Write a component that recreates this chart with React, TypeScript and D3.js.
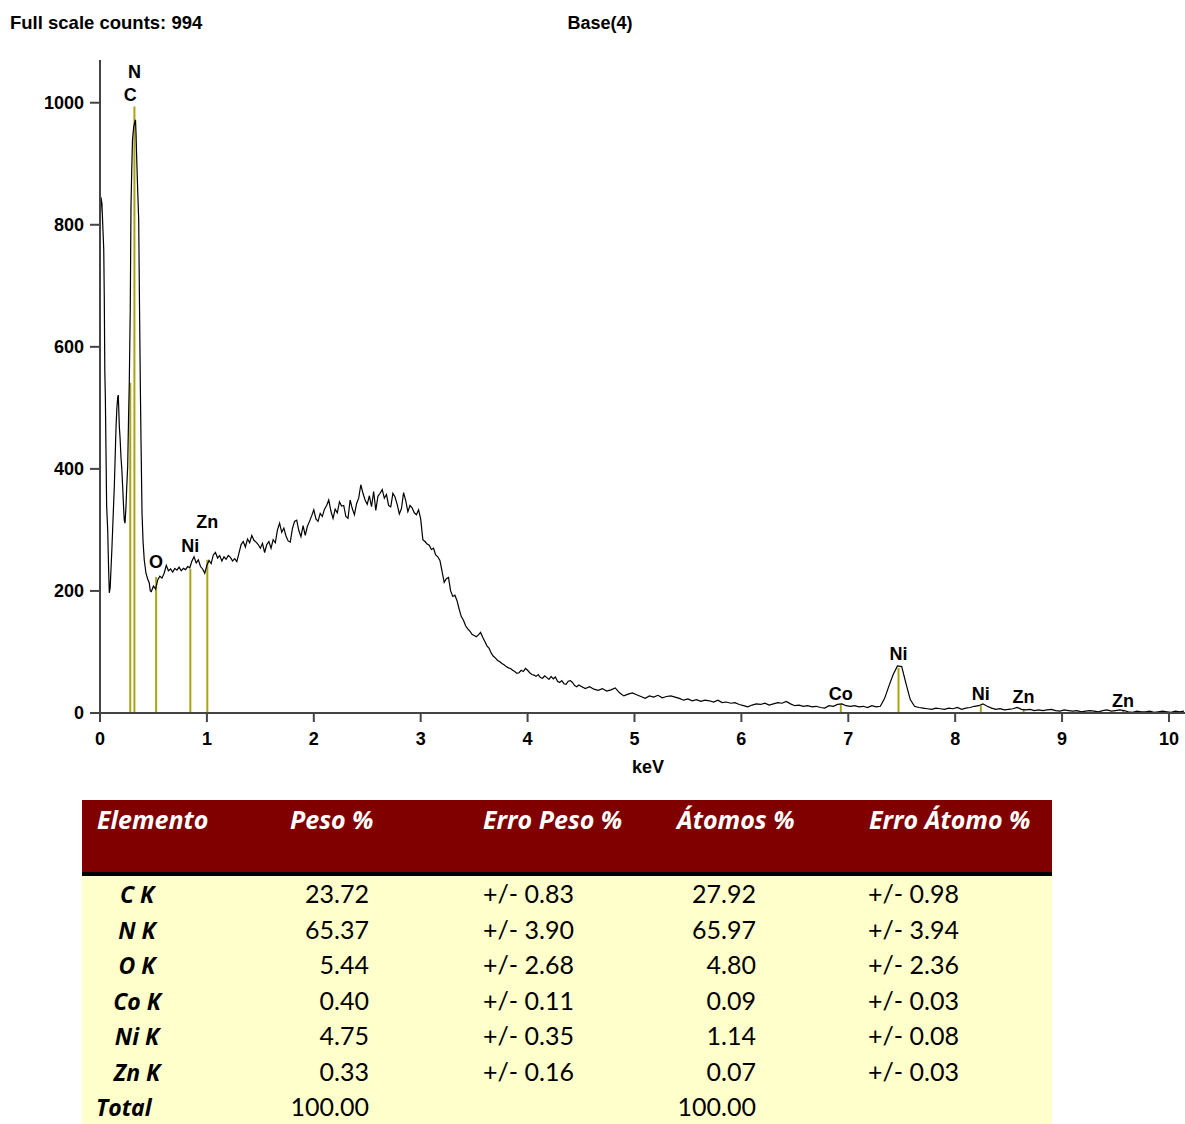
import { useEffect, useRef } from 'react';
import * as d3 from 'd3';

// spectrum below 0.48 keV, read point by point: [keV, counts]
const lowEnergy: [number, number][] = [
  [0.005, 820], [0.009, 845], [0.018, 835], [0.025, 803], [0.035, 760], [0.04, 682], [0.045, 560],
  [0.05, 518], [0.056, 430], [0.062, 340], [0.072, 300], [0.08, 240], [0.087, 197], [0.095, 205],
  [0.104, 240], [0.112, 272], [0.122, 318], [0.134, 371], [0.142, 420], [0.15, 469], [0.158, 500],
  [0.166, 518], [0.171, 521], [0.176, 495], [0.181, 469], [0.188, 450], [0.196, 420], [0.204, 400],
  [0.212, 371], [0.22, 340], [0.227, 316], [0.234, 311], [0.243, 338], [0.25, 370], [0.259, 404],
  [0.268, 492], [0.274, 541], [0.283, 660], [0.29, 832], [0.297, 890], [0.304, 939], [0.315, 960],
  [0.325, 968], [0.332, 972], [0.337, 950], [0.343, 911], [0.352, 860], [0.362, 808], [0.37, 660],
  [0.377, 540], [0.384, 442], [0.393, 328], [0.403, 280], [0.414, 251], [0.43, 229], [0.445, 220],
  [0.461, 213], [0.47, 200],
];

// counts from 0.48 keV, one every 0.02 keV
const midStart = 0.48;
const midStep = 0.02;
const midCounts = [
  199, 208, 203, 218, 224, 221, 229, 242, 233, 236, 231, 237, 234, 239, 233, 237, 235, 240, 238, 249,
  256, 246, 251, 240, 236, 229, 242, 250, 245, 259, 263, 254, 258, 249, 256, 252, 258,
  255, 249, 253, 248, 262, 276, 281, 272, 285, 279, 291, 283, 280, 276, 270, 278, 263, 276, 281, 270,
  284, 279, 300, 311, 296, 303, 290, 282, 280, 302, 314, 316, 299, 289, 307, 291, 306, 314, 323, 333,
  318, 314, 327, 322, 334, 340, 349, 331, 319, 334, 328, 346, 339, 340, 322, 319, 349, 335, 325, 343,
  352, 374, 360, 349, 342, 356, 338, 363, 332, 355, 360, 366, 352, 358, 340, 338, 360, 354, 342, 326,
  335, 361, 348, 330, 340, 336, 328, 325, 333, 318, 284, 281, 277, 275, 268, 270, 259, 256, 250, 232,
  214, 220, 222, 200, 191, 193, 184, 170, 158, 152, 143, 138, 134, 129, 127, 125, 128, 132, 124, 117,
  110, 106, 98, 93, 90, 86, 84, 81, 79, 76, 74, 73, 70, 68, 65, 66, 70, 68, 73, 70, 66, 63, 62, 60,
  63, 58, 57, 61, 58, 55, 60, 56, 59, 52, 50, 53, 48, 47, 52, 53, 50, 45, 43, 46,
];

// counts from 4.50 keV, one every 0.04 keV
const tailStart = 4.5;
const tailStep = 0.04;
const tailCounts = [
  44, 40, 43, 39, 37, 40, 36, 38, 41, 33, 28, 31, 33, 30, 27, 24, 28, 26, 29, 25, 27, 28, 26, 24, 21,
  23, 20, 22, 19, 21, 20, 18, 21, 17, 18, 16, 17, 14, 12, 10, 13, 15, 14, 16, 13, 15, 17, 16, 19, 15,
  12, 13, 11, 12, 10, 11, 9, 8, 12, 11, 14, 15, 12, 11, 12, 10, 11, 9, 12, 10, 11, 24, 44, 63, 77,
  76, 48, 22, 11, 9, 8, 7, 6, 8, 7, 6, 8, 7, 9, 6, 8, 9, 11, 12, 15, 11, 8, 6, 7, 5, 6, 7, 9, 6, 5,
  6, 4, 5, 4, 5, 6, 4, 3, 5, 4, 3, 4, 2, 3, 4, 3, 2, 4, 5, 3, 4, 5, 4, 2, 1, 3, 2, 2, 3, 1, 2, 3, 2,
  1, 3, 2, 3,
];

// element markers: energy, line top (counts), label baseline (counts)
const markerLabels = ['C', 'N', 'O', 'Ni', 'Zn', 'Co', 'Ni', 'Ni', 'Zn', 'Zn'];
const markerKeV = [0.283, 0.322, 0.525, 0.845, 1.004, 6.93, 7.47, 8.24, 8.64, 9.57];
const markerTop = [541, 994, 223, 236, 251, 13, 74, 12, 6, 4];
const markerLabelAt = [1002, 1040, 238, 264, 303, 21, 87, 21, 16, 10];

const xTicks = [0, 1, 2, 3, 4, 5, 6, 7, 8, 9, 10];
const yTicks = [0, 200, 400, 600, 800, 1000];

// quantification table
const headers = ['Elemento', 'Peso %', 'Erro Peso %', 'Átomos %', 'Erro Átomo %'];
const elements = ['C K', 'N K', 'O K', 'Co K', 'Ni K', 'Zn K', 'Total'];
const peso = ['23.72', '65.37', '5.44', '0.40', '4.75', '0.33', '100.00'];
const erroPeso = ['+/- 0.83', '+/- 3.90', '+/- 2.68', '+/- 0.11', '+/- 0.35', '+/- 0.16', ''];
const atomos = ['27.92', '65.97', '4.80', '0.09', '1.14', '0.07', '100.00'];
const erroAtomo = ['+/- 0.98', '+/- 3.94', '+/- 2.36', '+/- 0.03', '+/- 0.08', '+/- 0.03', ''];

const W = 1185;
const H = 1124;
const chartFont = '"Liberation Sans", Arial, sans-serif';
const tableFont = 'Lato, "Open Sans", sans-serif';
const headFont = '"Open Sans", Lato, sans-serif';

function App() {
  const ref = useRef<SVGSVGElement>(null);

  useEffect(() => {
    const svg = d3.select(ref.current);
    svg.selectAll('*').remove();

    const x = d3.scaleLinear().domain([0, 10.15]).range([100, 1185]);
    const y = d3.scaleLinear().domain([0, 1070]).range([713, 60]);

    const spectrum: [number, number][] = [
      ...lowEnergy,
      ...midCounts.map((c, i) => [midStart + i * midStep, c] as [number, number]),
      ...tailCounts.map((c, i) => [tailStart + i * tailStep, c] as [number, number]),
    ].filter(d => d[0] <= 10.15);

    const label = (g: any, txt: string | number, xx: number, yy: number, anchor = 'middle') =>
      g.append('text').attr('x', xx).attr('y', yy).attr('text-anchor', anchor)
        .style('font-family', chartFont).style('font-weight', 'bold').style('font-size', '18px')
        .text(txt);

    // header texts
    label(svg, 'Full scale counts: 994', 10, 29, 'start').style('font-size', '18.5px');
    label(svg, 'Base(4)', 600, 29);

    // element marker lines
    const mk = svg.append('g');
    markerKeV.forEach((k, i) => {
      mk.append('line')
        .attr('x1', x(k)).attr('x2', x(k)).attr('y1', y(0)).attr('y2', y(markerTop[i]))
        .attr('stroke', '#a9a414').attr('stroke-width', 2);
    });

    // spectrum trace
    svg.append('path').datum(spectrum)
      .attr('fill', 'none').attr('stroke', '#000').attr('stroke-width', 1.2)
      .attr('d', d3.line<[number, number]>().x(d => x(d[0])).y(d => y(d[1])));

    // marker labels
    markerKeV.forEach((k, i) => label(svg, markerLabels[i], x(k), y(markerLabelAt[i])));

    // axes
    const axisColor = '#444';
    svg.append('line').attr('x1', x(0)).attr('x2', x(0)).attr('y1', 60).attr('y2', y(0))
      .attr('stroke', axisColor).attr('stroke-width', 2);
    svg.append('line').attr('x1', 90).attr('x2', W).attr('y1', y(0)).attr('y2', y(0))
      .attr('stroke', axisColor).attr('stroke-width', 2);

    yTicks.forEach(t => {
      svg.append('line').attr('x1', 90).attr('x2', x(0)).attr('y1', y(t)).attr('y2', y(t))
        .attr('stroke', axisColor).attr('stroke-width', 2);
      label(svg, t, 84, y(t) + 6, 'end');
    });
    xTicks.forEach(t => {
      svg.append('line').attr('x1', x(t)).attr('x2', x(t)).attr('y1', y(0)).attr('y2', y(0) + 9)
        .attr('stroke', axisColor).attr('stroke-width', 2);
      label(svg, t, x(t), 745);
    });
    label(svg, 'keV', 648, 773);

    // table
    const tLeft = 82;
    const tRight = 1052;
    const tbl = svg.append('g');
    tbl.append('rect').attr('x', tLeft).attr('y', 800).attr('width', tRight - tLeft).attr('height', 73)
      .attr('fill', '#800000');
    tbl.append('rect').attr('x', tLeft).attr('y', 875).attr('width', tRight - tLeft).attr('height', H - 875)
      .attr('fill', '#ffffcc');
    tbl.append('rect').attr('x', tLeft).attr('y', 872).attr('width', tRight - tLeft).attr('height', 4)
      .attr('fill', '#000');

    const headX = [97, 290, 483, 677, 869];
    headers.forEach((h, i) => {
      tbl.append('text').attr('x', headX[i]).attr('y', 829)
        .style('font-family', headFont).style('font-weight', 'bold').style('font-style', 'italic')
        .style('font-size', '25px').attr('fill', '#fff')
        .text(h);
    });

    const rowY = (i: number) => 903 + i * 35.5;
    const cell = (txt: string, xx: number, yy: number, anchor: string, bold = false) =>
      tbl.append('text').attr('x', xx).attr('y', yy).attr('text-anchor', anchor)
        .style('font-family', bold ? headFont : tableFont).style('font-size', bold ? '23px' : '25px')
        .style('font-weight', bold ? 'bold' : 'normal').style('font-style', bold ? 'italic' : 'normal')
        .attr('fill', '#000').text(txt);

    elements.forEach((e, i) => {
      const last = i === elements.length - 1;
      cell(e, last ? 96 : 137, rowY(i), last ? 'start' : 'middle', true);
      cell(peso[i], 369, rowY(i), 'end');
      cell(erroPeso[i], 483, rowY(i), 'start');
      cell(atomos[i], 756, rowY(i), 'end');
      cell(erroAtomo[i], 868, rowY(i), 'start');
    });
  }, []);

  return (
    <svg ref={ref} width={W} height={H}
      style={{ position: 'absolute', left: 0, top: 0, background: '#fff' }} />
  );
}

export default App;
